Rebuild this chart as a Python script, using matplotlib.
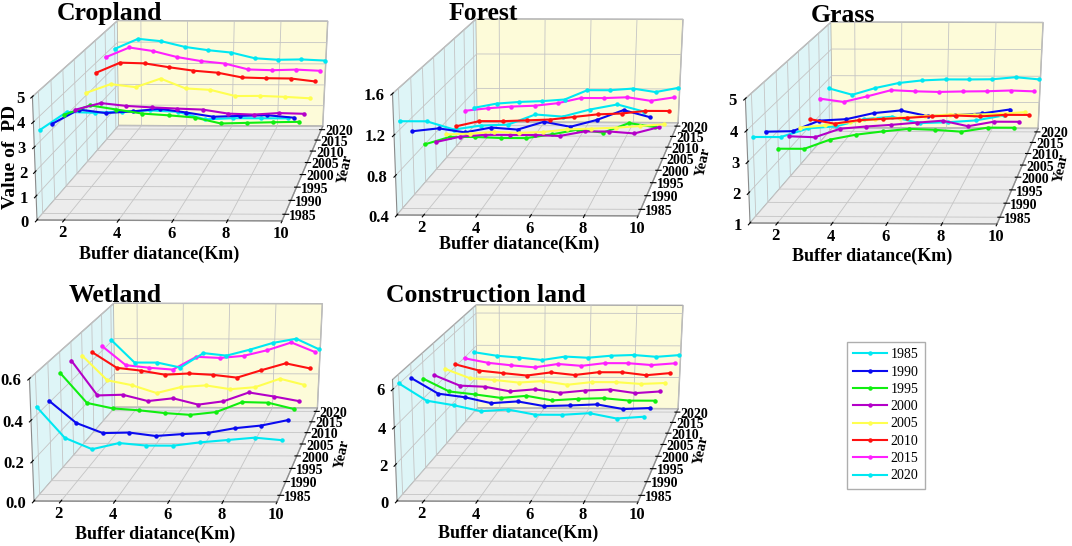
import numpy as np
import matplotlib
matplotlib.use("Agg")
import matplotlib.pyplot as plt

years = [1985, 1990, 1995, 2000, 2005, 2010, 2015, 2020]
distance = [1, 2, 3, 4, 5, 6, 7, 8, 9, 10]
year_colors = ["#00e8f2", "#0a0af0", "#10ee10", "#b400c8",
               "#ffff50", "#ff1010", "#ff20ff", "#00e8f2"]

# PD values, one row per year (1985 ... 2020), one column per buffer distance
cropland_pd = [
    [3.45, 4.18, 4.15, 4.20, 4.25, 4.20, 3.90, 3.95, 3.95, 3.95],
    [3.21, 3.80, 3.66, 3.73, 3.84, 3.69, 3.52, 3.56, 3.59, 3.49],
    [3.10, 3.50, 3.33, 3.16, 3.09, 3.00, 2.75, 2.78, 2.81, 2.83],
    [2.84, 3.13, 3.01, 2.95, 2.90, 2.86, 2.69, 2.65, 2.72, 2.69],
    [3.11, 3.50, 3.37, 3.75, 3.32, 3.26, 2.99, 3.00, 2.96, 2.90],
    [3.56, 4.02, 3.99, 3.82, 3.67, 3.58, 3.37, 3.34, 3.33, 3.20],
    [3.84, 4.29, 4.13, 3.86, 3.68, 3.57, 3.30, 3.27, 3.30, 3.25],
    [3.82, 4.29, 4.18, 3.92, 3.77, 3.66, 3.40, 3.33, 3.35, 3.30],
]
forest_pd = [
    [1.28, 1.28, 1.20, 1.24, 1.25, 1.35, 1.33, 1.40, 1.45, 1.38],
    [1.06, 1.09, 1.05, 1.10, 1.08, 1.16, 1.11, 1.18, 1.28, 1.21],
    [0.80, 0.88, 0.88, 0.87, 0.87, 0.91, 0.96, 0.93, 1.03, 0.99],
    [0.70, 0.76, 0.78, 0.78, 0.78, 0.77, 0.82, 0.82, 0.80, 0.87],
    [0.66, 0.67, 0.69, 0.68, 0.69, 0.72, 0.73, 0.74, 0.76, 0.78],
    [0.63, 0.69, 0.69, 0.70, 0.71, 0.74, 0.77, 0.78, 0.81, 0.81],
    [0.69, 0.72, 0.74, 0.75, 0.78, 0.84, 0.84, 0.85, 0.81, 0.85],
    [0.61, 0.66, 0.68, 0.69, 0.71, 0.82, 0.82, 0.84, 0.80, 0.85],
]
grass_pd = [
    [3.61, 3.61, 3.89, 3.96, 4.19, 4.27, 4.07, 4.10, 4.16, 4.32],
    [3.38, 3.40, 3.75, 3.80, 4.00, 4.09, 3.91, 3.94, 4.00, 4.13],
    [2.40, 2.40, 2.72, 2.89, 3.00, 3.09, 3.06, 3.00, 3.14, 3.14],
    [2.42, 2.39, 2.69, 2.77, 2.83, 2.91, 2.98, 2.79, 2.95, 2.95],
    [2.33, 2.41, 2.53, 2.63, 2.69, 2.75, 2.81, 2.81, 2.84, 2.90],
    [2.24, 2.08, 2.21, 2.26, 2.30, 2.36, 2.39, 2.36, 2.42, 2.42],
    [2.62, 2.50, 2.71, 2.94, 2.90, 2.88, 2.90, 2.91, 2.94, 2.91],
    [2.64, 2.40, 2.66, 2.85, 2.95, 2.99, 2.99, 3.00, 3.08, 3.00],
]
wetland_pd = [
    [0.438, 0.286, 0.230, 0.261, 0.249, 0.249, 0.266, 0.278, 0.290, 0.278],
    [0.409, 0.298, 0.247, 0.250, 0.233, 0.243, 0.250, 0.274, 0.288, 0.316],
    [0.492, 0.340, 0.312, 0.303, 0.289, 0.280, 0.295, 0.347, 0.344, 0.312],
    [0.502, 0.321, 0.325, 0.292, 0.307, 0.274, 0.292, 0.339, 0.318, 0.294],
    [0.476, 0.345, 0.319, 0.277, 0.310, 0.319, 0.299, 0.310, 0.356, 0.323],
    [0.442, 0.358, 0.343, 0.321, 0.328, 0.321, 0.306, 0.347, 0.385, 0.358],
    [0.425, 0.319, 0.305, 0.295, 0.367, 0.361, 0.373, 0.405, 0.448, 0.396],
    [0.409, 0.281, 0.281, 0.253, 0.336, 0.322, 0.356, 0.395, 0.419, 0.360],
]
construction_pd = [
    [6.03, 5.12, 4.88, 4.57, 4.66, 4.39, 4.39, 4.48, 4.20, 4.30],
    [5.71, 4.87, 4.68, 4.36, 4.46, 4.21, 4.25, 4.31, 4.06, 4.12],
    [5.08, 4.37, 4.21, 4.02, 4.14, 3.89, 3.98, 4.02, 3.89, 3.89],
    [4.68, 4.09, 4.03, 3.77, 3.89, 3.69, 3.83, 3.89, 3.69, 3.79],
    [4.46, 3.92, 3.82, 3.67, 3.76, 3.55, 3.71, 3.71, 3.61, 3.67],
    [4.15, 3.78, 3.63, 3.49, 3.68, 3.53, 3.70, 3.70, 3.53, 3.66],
    [3.94, 3.67, 3.52, 3.40, 3.61, 3.50, 3.67, 3.67, 3.56, 3.67],
    [3.76, 3.54, 3.43, 3.28, 3.50, 3.43, 3.56, 3.61, 3.50, 3.61],
]

titles = ["Cropland", "Forest", "Grass", "Wetland", "Construction land"]
z_limits = [(0, 5), (0.4, 1.6), (1, 5), (0, 0.6), (0, 6.5)]
z_ticks = [[0, 1, 2, 3, 4, 5], [0.4, 0.8, 1.2, 1.6], [1, 2, 3, 4, 5],
           [0.0, 0.2, 0.4, 0.6], [0, 2, 4, 6]]
z_formats = ["%d", "%.1f", "%d", "%.1f", "%d"]

# layout in image pixels (y from top)
W, H = 1072, 546
front_left = [(37, 220), (397, 215), (750, 223), (34, 501), (397, 501)]
front_right_x = [282, 638, 997, 277, 638]
title_xy = [(57, 2), (449, 2), (811, 4), (69, 284), (386, 284)]
xlabel_xy = [(159, 254), (519, 244), (872, 256), (155, 534), (518, 533)]
yearlabel_xy = [(345, 169), (703, 162), (1061, 168), (342, 454), (701, 450)]

YLIM = (1982.7, 2021.7)
SHEAR = 0.067   # x units per year, gives the oblique look

plt.rcParams["font.family"] = "Liberation Serif"
plt.rcParams["font.weight"] = "bold"
plt.rcParams["grid.color"] = "#c4c4c4"
plt.rcParams["grid.linewidth"] = 0.6

fig = plt.figure(figsize=(W / 100, H / 100), dpi=100)


def shear_view(ax, k, y0):
    base = ax.get_proj

    def get_proj():
        S = np.eye(4)
        S[0, 1] = k
        S[0, 3] = -k * y0
        return base() @ S

    ax.get_proj = get_proj


def corner_px(ax, x, y, z):
    v = ax.get_proj() @ np.array([x, y, z, 1.0])
    return ax.transData.transform((v[0] / v[3], v[1] / v[3]))


all_data = [cropland_pd, forest_pd, grass_pd, wetland_pd, construction_pd]
axes = []
for i, data in enumerate(all_data):
    ax = fig.add_axes([0.1, 0.1, 0.4, 0.4 * W / H], projection="3d")
    ax.patch.set_visible(False)
    ax.set_proj_type("persp", focal_length=0.667)
    ax.view_init(elev=20, azim=-89.5)
    ax.set_box_aspect((1, 1.1, 0.534))
    shear_view(ax, SHEAR, YLIM[0])

    for j, yr in enumerate(years):
        ax.plot(distance, [yr] * len(distance), data[j], color=year_colors[j],
                lw=1.5, marker="o", ms=2.2, label=str(yr))

    ax.set_xlim(1, 10)
    ax.set_ylim(*YLIM)
    ax.set_zlim(*z_limits[i])
    ax.set_xticks([2, 4, 6, 8, 10])
    ax.set_yticks(years)
    ax.set_zticks(z_ticks[i])
    ax.set_zticklabels([z_formats[i] % t for t in z_ticks[i]])
    ax.zaxis.set_ticks_position("lower")
    ax.tick_params(axis="x", labelsize=12, pad=-5)
    ax.tick_params(axis="y", labelsize=10, pad=-5.5)
    ax.tick_params(axis="z", labelsize=12, pad=-5)
    for lab in ax.get_yticklabels():
        lab.set_horizontalalignment("left")
        lab.set_verticalalignment("center")
    for lab in ax.get_zticklabels():
        lab.set_horizontalalignment("right")
        lab.set_verticalalignment("center")

    ax.xaxis.set_pane_color("#def5f7")
    ax.yaxis.set_pane_color("#fdfbd9")
    ax.zaxis.set_pane_color("#ececec")
    for axis in (ax.xaxis, ax.yaxis, ax.zaxis):
        axis.pane.set_edgecolor("#a8a8a8")
        axis.line.set_color("#8a8a8a")
        axis.line.set_linewidth(0.8)
    axes.append(ax)

# fit each 3D box onto its place in the figure
fig.canvas.draw()
for i, ax in enumerate(axes):
    zmin = z_limits[i][0]
    fl = corner_px(ax, 1, YLIM[0], zmin)
    fr = corner_px(ax, 10, YLIM[0], zmin)
    pos = ax.get_position()
    a, b, L = pos.x0 * W, pos.y0 * H, pos.width * W
    factor = (front_right_x[i] - front_left[i][0]) / (fr[0] - fl[0])
    tx, ty = front_left[i][0], H - front_left[i][1]
    a2 = tx - (fl[0] - a) * factor
    b2 = ty - (fl[1] - b) * factor
    L2 = L * factor
    ax.set_position([a2 / W, b2 / H, L2 / W, L2 / H])

for i in range(5):
    fig.text(title_xy[i][0] / W, 1 - title_xy[i][1] / H, titles[i],
             ha="left", va="top", fontsize=18.5, fontweight="bold")
    fig.text(xlabel_xy[i][0] / W, 1 - xlabel_xy[i][1] / H, "Buffer diatance(Km)",
             ha="center", va="center", fontsize=13, fontweight="bold")
    fig.text(yearlabel_xy[i][0] / W, 1 - yearlabel_xy[i][1] / H, "Year",
             ha="center", va="center", fontsize=10.5, fontweight="bold", rotation=78)

fig.text(11 / W, 1 - 157 / H, "Value of  PD", ha="center", va="center",
         fontsize=14, fontweight="bold", rotation=90)

handles, labels = axes[0].get_legend_handles_labels()
fig.legend(handles, labels, loc="upper left",
           bbox_to_anchor=(847 / W, 1 - 342 / H), borderaxespad=0,
           frameon=True, fancybox=False, edgecolor="#9a9a9a",
           handlelength=2.45, labelspacing=0.31, borderpad=0.45,
           handletextpad=0.25,
           prop={"family": "Liberation Serif", "weight": "normal", "size": 10})

fig.savefig("out.png", dpi=100)
